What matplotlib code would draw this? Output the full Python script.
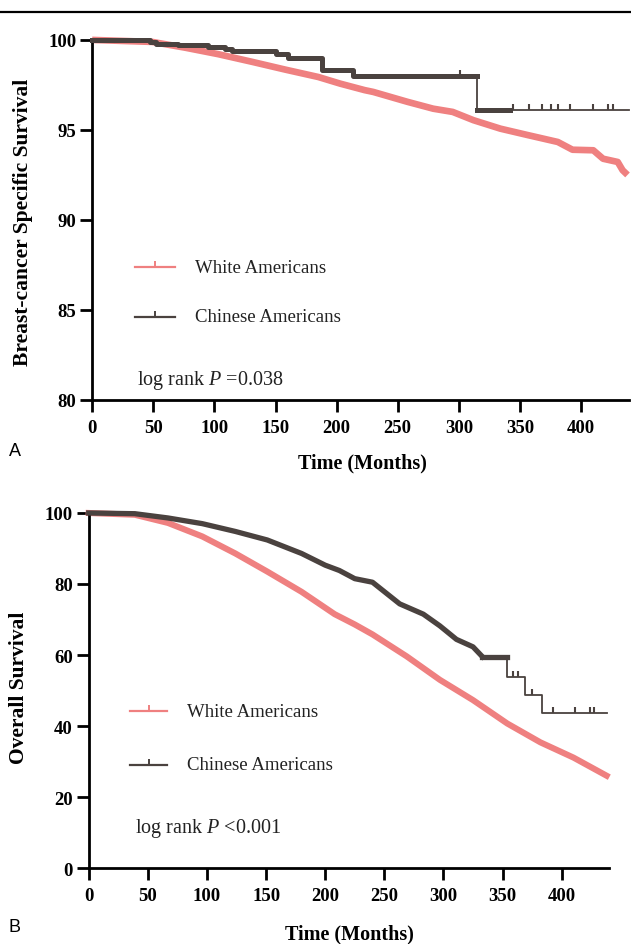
import numpy as np
import matplotlib.pyplot as plt
from matplotlib.lines import Line2D

plt.rcParams['font.family'] = ['Liberation Serif', 'DejaVu Serif']
plt.rcParams['mathtext.fontset'] = 'custom'
plt.rcParams['mathtext.rm'] = 'Liberation Serif'
plt.rcParams['mathtext.it'] = 'Liberation Serif:italic'

RED = '#ef8080'
DARK = '#4a423f'
TICK = [(0, 0), (0, 1)]   # censor mark: short stroke going up from the curve

# ---- panel A: breast-cancer specific survival ----
a_white_t = [0, 49, 76, 103, 131, 158, 185, 203, 223, 230, 258, 279, 295, 312,
             334, 356, 381, 393, 410, 418, 430, 434, 438]
a_white_s = [100, 99.89, 99.57, 99.21, 98.78, 98.35, 97.94, 97.57, 97.21, 97.11,
             96.56, 96.18, 96.0, 95.54, 95.07, 94.72, 94.33, 93.9, 93.87, 93.4,
             93.22, 92.76, 92.5]
a_chin_t = [0, 47, 52, 70, 95, 109, 114, 150, 160, 188, 213, 315, 439]
a_chin_s = [100, 99.9, 99.8, 99.7, 99.6, 99.5, 99.4, 99.2, 99.0, 98.35, 98.0, 96.1, 96.1]
a_chin_cens = [301, 344, 357, 368, 375, 381, 391, 410, 422, 426]
a_thick_end = 315

# ---- panel B: overall survival ----
b_white_t = [0, 39, 67, 96, 124, 151, 180, 208, 225, 240, 269, 297, 325, 354,
             382, 410, 438]
b_white_s = [100, 99.5, 97.2, 93.4, 88.6, 83.5, 77.8, 71.5, 68.6, 65.8, 59.6, 53.0,
             47.3, 40.7, 35.4, 31.1, 26.0]
b_chin_t = [0, 39, 67, 96, 124, 151, 180, 200, 212, 225, 240, 263, 283, 297, 311,
            325, 333, 354, 369, 383.5, 438]
b_chin_s = [100, 99.8, 98.6, 97.0, 94.8, 92.4, 88.6, 85.3, 83.8, 81.5, 80.5, 74.4,
            71.5, 68.2, 64.4, 62.3, 59.5, 53.9, 48.7, 43.8, 43.8]
b_chin_cens = [359, 363, 375, 392.6, 411, 424, 427]
b_smooth_end = 333


def step_value(t, s, x):
    i = np.searchsorted(t, x, side='right') - 1
    return np.asarray(s)[i]


def style_axes(ax):
    for side in ['top', 'right']:
        ax.spines[side].set_visible(False)
    for side in ['left', 'bottom']:
        ax.spines[side].set_linewidth(2)
    ax.tick_params(direction='out', length=8.5, width=2, labelsize=13.5, pad=3)
    ax.tick_params(axis='x', pad=5)
    for lbl in ax.get_xticklabels() + ax.get_yticklabels():
        lbl.set_fontweight('bold')


def legend_rows(ax, x0, x1, xt, rows):
    for y, col, lab in rows:
        ax.plot([x0, x1], [y, y], color=col, lw=1.6, transform=ax.transAxes,
                clip_on=False)
        ax.plot([(x0 + x1) / 2], [y], marker=TICK, ms=8, mew=1.4, color=col,
                transform=ax.transAxes, clip_on=False)
        ax.text(xt, y, lab, transform=ax.transAxes, fontsize=13.5, va='center',
                ha='left', color='#222222')


fig = plt.figure(figsize=(6.31, 9.45), dpi=100)
fig.add_artist(Line2D([0, 1], [1 - 12.5 / 945] * 2, color='black', lw=1.6,
                      transform=fig.transFigure))

# panel A
ax = fig.add_axes([0.1461, 0.5757, 0.8503, 0.3810])
ax.plot(a_white_t, a_white_s, color=RED, lw=4.8, solid_capstyle='butt',
        clip_on=False, zorder=2)
ax.plot(a_chin_t, a_chin_s, color=DARK, lw=1.3, drawstyle='steps-post',
        clip_on=False, zorder=3)
k = np.searchsorted(a_chin_t, a_thick_end)
ax.plot(list(a_chin_t[:k]) + [a_thick_end], list(a_chin_s[:k]) + [a_chin_s[k - 1]],
        color=DARK, lw=3.6, drawstyle='steps-post', clip_on=False, zorder=3)
ax.plot([a_thick_end, 342], [a_chin_s[k]] * 2, color=DARK, lw=3.6, zorder=3)
ax.plot(a_chin_cens, step_value(a_chin_t, a_chin_s, a_chin_cens), ls='none',
        marker=TICK, ms=9, mew=1.5, color=DARK, zorder=3)
ax.set_xlim(0, 439)
ax.set_ylim(80, 100)
ax.set_xticks(range(0, 401, 50))
ax.set_yticks([80, 85, 90, 95, 100])
style_axes(ax)
legend_rows(ax, 0.080, 0.155, 0.192,
            [(0.369, RED, 'White Americans'), (0.231, DARK, 'Chinese Americans')])
ax.text(0.083, 0.058, 'log rank $P$ =0.038', transform=ax.transAxes,
        fontsize=14.5, va='center', color='#222222')
fig.text(0.574, 1 - 463 / 945, 'Time (Months)', ha='center', va='center',
         fontsize=14.5, fontweight='bold')
fig.text(0.036, 1 - 222 / 945, 'Breast-cancer Specific Survival', rotation=90,
         ha='center', va='center', fontsize=15.5, fontweight='bold')
fig.text(15 / 631, 1 - 452 / 945, 'A', family='Liberation Sans', fontsize=13,
         ha='center', va='center')

# panel B
bx = fig.add_axes([0.1406, 0.0804, 0.8245, 0.3757])
bx.plot(b_white_t, b_white_s, color=RED, lw=4.4, clip_on=False, zorder=2)
m = np.searchsorted(b_chin_t, b_smooth_end)
bx.plot(b_chin_t[:m + 1], b_chin_s[:m + 1], color=DARK, lw=3.8, clip_on=False,
        zorder=3)
bx.plot(b_chin_t[m:], b_chin_s[m:], color=DARK, lw=1.3, drawstyle='steps-post',
        zorder=3)
bx.plot(b_chin_t[m:m + 2], [b_chin_s[m]] * 2, color=DARK, lw=3.8, zorder=3)
bx.plot(b_chin_cens, step_value(b_chin_t, b_chin_s, b_chin_cens), ls='none',
        marker=TICK, ms=9, mew=1.5, color=DARK, zorder=3)
bx.set_xlim(0, 440)
bx.set_ylim(0, 100)
bx.set_xticks(range(0, 401, 50))
bx.set_yticks(range(0, 101, 20))
style_axes(bx)
legend_rows(bx, 0.0794, 0.1505, 0.189,
            [(0.4416, RED, 'White Americans'), (0.2906, DARK, 'Chinese Americans')])
bx.text(0.089, 0.114, 'log rank $P$ <0.001', transform=bx.transAxes,
        fontsize=14.5, va='center', color='#222222')
fig.text(0.553, 1 - 934 / 945, 'Time (Months)', ha='center', va='center',
         fontsize=14.5, fontweight='bold')
fig.text(0.030, 1 - 688 / 945, 'Overall Survival', rotation=90,
         ha='center', va='center', fontsize=15.5, fontweight='bold')
fig.text(15 / 631, 1 - 928 / 945, 'B', family='Liberation Sans', fontsize=13,
         ha='center', va='center')

fig.savefig('out.png', dpi=100)
